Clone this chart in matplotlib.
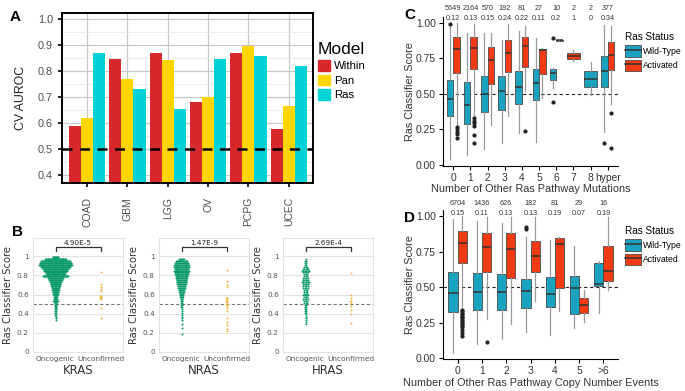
import matplotlib
matplotlib.use('Agg')
import matplotlib.pyplot as plt
from matplotlib.patches import Patch
from matplotlib.lines import Line2D
import numpy as np

nan = np.nan

# ---------------- panel A data ----------------
tumor_types = ['COAD', 'GBM', 'LGG', 'OV', 'PCPG', 'UCEC']
auroc_within = [0.589, 0.845, 0.870, 0.680, 0.870, 0.577]
auroc_pan = [0.620, 0.770, 0.840, 0.700, 0.895, 0.667]
auroc_ras = [0.870, 0.730, 0.655, 0.845, 0.857, 0.818]
model_names = ['Within', 'Pan', 'Ras']

# ---------------- panel B data (score level, number of samples at that level) ----------------
genes = ['KRAS', 'NRAS', 'HRAS']
pvalues = ['4.90E-5', '1.47E-9', '2.69E-4']

kras_onc_levels = [0.99, 0.97, 0.95, 0.93, 0.91, 0.89, 0.87, 0.85, 0.83, 0.81, 0.79, 0.77, 0.75, 0.73,
                   0.71, 0.69, 0.67, 0.65, 0.63, 0.61, 0.59, 0.57, 0.55, 0.53, 0.51, 0.49, 0.47, 0.45,
                   0.43, 0.41, 0.39, 0.37, 0.35, 0.33]
kras_onc_counts = [10, 34, 46, 50, 52, 46, 40, 36, 32, 30, 40, 24, 20, 18,
                   16, 14, 12, 11, 10, 8, 7, 6, 6, 8, 4, 4, 3, 3,
                   2, 2, 2, 1, 1, 1]
kras_unc_levels = [0.84, 0.71, 0.68, 0.66, 0.64, 0.58, 0.57, 0.56, 0.55, 0.46, 0.35]
kras_unc_counts = [1, 1, 1, 1, 1, 2, 1, 2, 1, 1, 1]

nras_onc_levels = [0.97, 0.95, 0.93, 0.91, 0.89, 0.87, 0.85, 0.83, 0.81, 0.79, 0.77, 0.75, 0.73, 0.71,
                   0.69, 0.67, 0.65, 0.63, 0.61, 0.59, 0.57, 0.55, 0.53, 0.51, 0.49, 0.47, 0.45, 0.43,
                   0.41, 0.39, 0.37, 0.35, 0.33, 0.29, 0.25, 0.19]
nras_onc_counts = [6, 14, 16, 18, 18, 16, 18, 16, 16, 14, 14, 12, 12, 10,
                   8, 8, 6, 6, 5, 4, 4, 3, 3, 2, 2, 2, 1, 1,
                   1, 1, 1, 1, 1, 1, 1, 1]
nras_unc_levels = [0.86, 0.74, 0.70, 0.68, 0.56, 0.55, 0.53, 0.52, 0.50, 0.48, 0.46, 0.43,
                   0.35, 0.31, 0.28, 0.24, 0.22]
nras_unc_counts = [1, 1, 1, 1, 2, 1, 2, 1, 2, 1, 1, 1, 1, 1, 1, 1, 1]

hras_onc_levels = [0.97, 0.95, 0.93, 0.91, 0.89, 0.87, 0.85, 0.83, 0.81, 0.79, 0.77, 0.75, 0.73, 0.71,
                   0.69, 0.67, 0.65, 0.63, 0.61, 0.59, 0.57, 0.55, 0.53, 0.51, 0.49, 0.47, 0.45, 0.43,
                   0.41, 0.39, 0.37, 0.35, 0.33, 0.31, 0.29]
hras_onc_counts = [1, 2, 2, 2, 3, 5, 6, 4, 3, 3, 4, 5, 6, 5,
                   4, 4, 3, 3, 3, 4, 3, 4, 3, 3, 2, 2, 2, 2,
                   2, 1, 1, 1, 1, 1, 1]
hras_unc_levels = [0.82, 0.60, 0.56, 0.53, 0.51, 0.48, 0.44, 0.40, 0.30]
hras_unc_counts = [1, 1, 1, 2, 1, 1, 1, 1, 1]

# ---------------- panel C data ----------------
c_cats = ['0', '1', '2', '3', '4', '5', '6', '7', '8', 'hyper']
c_counts = ['5649', '2164', '570', '192', '81', '27', '10', '2', '2', '377']
c_fracs = ['0.12', '0.13', '0.15', '0.24', '0.22', '0.11', '0.2', '1', '0', '0.34']
c_wt_lo = [0.04, 0.07, 0.11, 0.15, 0.22, 0.16, 0.54, nan, 0.49, 0.23]
c_wt_q1 = [0.34, 0.29, 0.37, 0.385, 0.43, 0.455, 0.595, nan, 0.545, 0.55]
c_wt_med = [0.46, 0.42, 0.50, 0.52, 0.545, 0.573, 0.645, nan, 0.604, 0.662]
c_wt_q3 = [0.596, 0.58, 0.625, 0.627, 0.66, 0.672, 0.672, nan, 0.663, 0.766]
c_wt_hi = [0.97, 0.93, 0.93, 0.88, 0.94, 0.89, 0.68, nan, 0.721, 0.984]
c_wt_out = [[0.99], [], [], [], [], [], [0.44, 0.89], [], [], [0.15]]
c_act_lo = [0.28, 0.34, 0.28, 0.34, 0.52, 0.47, 0.875, 0.728, nan, 0.43]
c_act_q1 = [0.648, 0.674, 0.566, 0.655, 0.69, 0.639, 0.873, 0.744, nan, 0.667]
c_act_med = [0.812, 0.82, 0.737, 0.784, 0.836, 0.81, 0.876, 0.768, nan, 0.773]
c_act_q3 = [0.901, 0.897, 0.827, 0.878, 0.901, 0.812, 0.879, 0.79, nan, 0.866]
c_act_hi = [1.0, 0.99, 0.93, 0.99, 0.98, 0.82, 0.88, 0.81, nan, 0.98]
c_act_out = [[0.263, 0.249, 0.232, 0.214, 0.186], [0.327, 0.31, 0.292, 0.273, 0.209, 0.155],
             [], [], [0.24], [], [], [], [], [0.362, 0.12]]

# ---------------- panel D data ----------------
d_cats = ['0', '1', '2', '3', '4', '5', '>6']
d_counts = ['6704', '1436', '626', '182', '81', '29', '16']
d_fracs = ['0.15', '0.11', '0.13', '0.13', '0.19', '0.07', '0.19']
d_wt_lo = [0.04, 0.098, 0.134, 0.187, 0.164, 0.215, 0.316]
d_wt_q1 = [0.323, 0.339, 0.339, 0.356, 0.358, 0.311, 0.51]
d_wt_med = [0.457, 0.464, 0.468, 0.471, 0.45, 0.492, 0.52]
d_wt_q3 = [0.604, 0.597, 0.592, 0.555, 0.569, 0.58, 0.667]
d_wt_hi = [0.98, 0.967, 0.948, 0.85, 0.831, 0.791, 0.684]
d_wt_out = [[], [], [], [0.925, 0.906], [], [], []]
d_act_lo = [0.358, 0.276, 0.241, 0.405, 0.332, 0.257, 0.48]
d_act_q1 = [0.672, 0.609, 0.562, 0.609, 0.492, 0.316, 0.543]
d_act_med = [0.808, 0.78, 0.766, 0.721, 0.801, 0.372, 0.613]
d_act_q3 = [0.895, 0.878, 0.878, 0.827, 0.843, 0.422, 0.791]
d_act_hi = [1.0, 0.99, 0.99, 0.99, 0.85, 0.48, 0.99]
d_act_out = [[0.34, 0.33, 0.32, 0.31, 0.30, 0.29, 0.28, 0.27, 0.26, 0.25, 0.24, 0.23, 0.22, 0.20, 0.18, 0.16],
             [0.115], [], [], [], [], []]

# ---------------- styles ----------------
W, H = 685, 391
plt.rcParams['font.family'] = ['Liberation Sans', 'DejaVu Sans']
red_a, gold_a, cyan_a = '#D7282B', '#FFD500', '#00D2D6'
onc_col, unc_col = '#0A9A6A', '#F2B53A'
wt_col, act_col = '#1AA3BF', '#F23B12'
tick_gray = '#4D4D4D'


def fig_rect(x0, y0, x1, y1):
    return [x0 / W, 1 - y1 / H, (x1 - x0) / W, (y1 - y0) / H]


fig = plt.figure(figsize=(W / 100, H / 100), dpi=100)

# ================= A =================
axA = fig.add_axes(fig_rect(62, 13, 313, 183))
xA = np.arange(len(tumor_types))
bw = 0.3
for k, (vals, col) in enumerate(zip([auroc_within, auroc_pan, auroc_ras], [red_a, gold_a, cyan_a])):
    axA.bar(xA + (k - 1) * bw, vals, width=bw, color=col, zorder=2, label=model_names[k])
axA.axhline(0.5, color='black', lw=1.8, dashes=(4, 3), zorder=3)
axA.set_ylim(0.37, 1.022)
axA.set_xlim(-0.62, 5.6)
axA.set_yticks([0.4, 0.5, 0.6, 0.7, 0.8, 0.9, 1.0])
axA.set_yticks([0.45, 0.55, 0.65, 0.75, 0.85, 0.95], minor=True)
axA.set_xticks(xA)
axA.set_xticklabels(tumor_types, rotation=90, fontsize=7.5, color=tick_gray)
axA.tick_params(axis='y', which='major', labelsize=7.8, labelcolor=tick_gray, length=3, width=1.2)
axA.tick_params(axis='y', which='minor', length=0)
axA.tick_params(axis='x', length=3, width=1.2, pad=7)
axA.grid(True, which='major', color='#C8C8C8', lw=0.9, zorder=0)
axA.grid(True, which='minor', axis='y', color='#E6E6E6', lw=0.5, zorder=0)
axA.set_axisbelow(True)
for sp in axA.spines.values():
    sp.set_color('black')
    sp.set_linewidth(1.4)
axA.set_ylabel('CV AUROC', fontsize=8.8, color='#222222', labelpad=8)
fig.legend(handles=[Patch(color=c) for c in (red_a, gold_a, cyan_a)], labels=model_names,
           title='Model', title_fontsize=12.5, fontsize=8.2, loc='upper left',
           bbox_to_anchor=(313 / W, 1 - 37 / H), frameon=False, handlelength=1.05,
           handleheight=1.05, labelspacing=0.3, handletextpad=0.4, alignment='left',
           borderaxespad=0)

# ================= B =================
b_data = [
    (kras_onc_levels, kras_onc_counts, kras_unc_levels, kras_unc_counts, 0.0142),
    (nras_onc_levels, nras_onc_counts, nras_unc_levels, nras_unc_counts, 0.02),
    (hras_onc_levels, hras_onc_counts, hras_unc_levels, hras_unc_counts, 0.03),
]
b_lefts = [33, 159, 283]
for gi, (ol, oc, ul, uc, dx) in enumerate(b_data):
    ax = fig.add_axes(fig_rect(b_lefts[gi], 238, b_lefts[gi] + 90, 352))
    for pos, levels, counts, col in [(0, ol, oc, onc_col), (1, ul, uc, unc_col)]:
        xs, ys = [], []
        for v, n in zip(levels, counts):
            offs = (np.arange(n) - (n - 1) / 2) * dx
            xs.extend(pos + offs)
            ys.extend([v] * n)
        ax.scatter(xs, ys, s=2.0, color=col, lw=0, zorder=3)
    ax.axhline(0.5, color='#777777', lw=0.8, ls=(0, (3, 2)), zorder=2)
    ax.plot([0, 0, 1, 1], [1.05, 1.1, 1.1, 1.05], color='#333333', lw=0.9)
    ax.text(0.5, 1.11, pvalues[gi], ha='center', va='bottom', fontsize=5.2,
            family='DejaVu Sans', color='#222222')
    ax.set_xlim(-0.5, 1.5)
    ax.set_ylim(0, 1.19)
    ax.set_yticks([0, 0.2, 0.4, 0.6, 0.8, 1.0])
    ax.set_yticklabels(['0', '0.2', '0.4', '0.6', '0.8', '1'], family='DejaVu Sans')
    ax.set_xticks([0, 1])
    ax.set_xticklabels(['Oncogenic', 'Unconfirmed'], family='DejaVu Sans')
    ax.tick_params(axis='both', labelsize=5.3, labelcolor='#555555', length=0, pad=3)
    ax.grid(True, axis='y', color='#E2E2E2', lw=0.8)
    ax.set_axisbelow(True)
    for sp in ax.spines.values():
        sp.set_color('#E2E2E2')
    ax.set_ylabel('Ras Classifier Score', fontsize=7.2, family='DejaVu Sans', color='#333333',
                  labelpad=3)
    ax.set_xlabel(genes[gi], fontsize=8.5, family='DejaVu Sans', color='#333333', labelpad=1)


# ================= C & D =================
def make_stats(lo, q1, med, q3, hi, out):
    stats, idx = [], []
    for i in range(len(lo)):
        if np.isnan(med[i]):
            continue
        stats.append(dict(whislo=lo[i], q1=q1[i], med=med[i], q3=q3[i], whishi=hi[i], fliers=out[i]))
        idx.append(i)
    return stats, idx


def box_panel(ax, cats, wt, act, counts, fracs, ytxt):
    wt_stats, wt_idx = make_stats(*wt)
    act_stats, act_idx = make_stats(*act)
    for stats, idx, other, sign, col in [(wt_stats, wt_idx, act_idx, -1, wt_col),
                                         (act_stats, act_idx, wt_idx, 1, act_col)]:
        pos, wid = [], []
        for i in idx:
            if i in other:
                pos.append(i + sign * 0.19)
                wid.append(0.38)
            else:
                pos.append(i)
                wid.append(0.76)
        ax.bxp(stats, positions=pos, widths=wid, patch_artist=True, showcaps=False,
               boxprops=dict(facecolor=col, edgecolor='#4A4A4A', lw=0.6),
               medianprops=dict(color='#333333', lw=1.1),
               whiskerprops=dict(color='#9A9A9A', lw=0.9),
               flierprops=dict(marker='o', markersize=2.0, markerfacecolor='#222222',
                               markeredgecolor='#222222'))
    ax.axhline(0.5, color='#222222', lw=0.8, ls=(0, (3, 2.5)), zorder=1)
    for i in range(len(cats)):
        ax.text(i, ytxt[0], counts[i], ha='center', va='center', fontsize=5.2, color='#333333',
                clip_on=False)
        ax.text(i, ytxt[1], fracs[i], ha='center', va='center', fontsize=5.2, color='#333333',
                clip_on=False)
    ax.set_xlim(-0.6, len(cats) - 0.4)
    ax.set_ylim(-0.007, 1.04)
    ax.set_xticks(range(len(cats)))
    ax.set_xticklabels(cats)
    ax.set_yticks([0, 0.25, 0.5, 0.75, 1.0])
    ax.set_yticklabels(['0.00', '0.25', '0.50', '0.75', '1.00'])
    ax.tick_params(axis='both', labelsize=7.4, labelcolor='#333333', length=3, width=0.8, pad=2)
    for s in ['top', 'right']:
        ax.spines[s].set_visible(False)
    for s in ['left', 'bottom']:
        ax.spines[s].set_linewidth(0.8)
    ax.set_ylabel('Ras Classifier Score', fontsize=7.8, color='#333333', labelpad=1)


status_handles = [(Patch(facecolor=wt_col, edgecolor='#4A4A4A', lw=0.6), Line2D([], [], color='#333333', lw=1.1)),
                  (Patch(facecolor=act_col, edgecolor='#4A4A4A', lw=0.6), Line2D([], [], color='#333333', lw=1.1))]

axC = fig.add_axes(fig_rect(443, 17, 618, 165.7))
box_panel(axC, c_cats,
          (c_wt_lo, c_wt_q1, c_wt_med, c_wt_q3, c_wt_hi, c_wt_out),
          (c_act_lo, c_act_q1, c_act_med, c_act_q3, c_act_hi, c_act_out),
          c_counts, c_fracs, (1.10, 1.03))
axC.set_xlabel('Number of Other Ras Pathway Mutations', fontsize=7.8, color='#333333', labelpad=1)
fig.legend(status_handles, ['Wild-Type', 'Activated'], title='Ras Status', loc='upper left',
           bbox_to_anchor=(622 / W, 1 - 29 / H), frameon=False, fontsize=6.2, title_fontsize=7.2,
           handlelength=1.85, handleheight=1.6, labelspacing=0.35, handletextpad=0.2,
           alignment='left', borderaxespad=0)

axD = fig.add_axes(fig_rect(443, 210.3, 618, 359.3))
box_panel(axD, d_cats,
          (d_wt_lo, d_wt_q1, d_wt_med, d_wt_q3, d_wt_hi, d_wt_out),
          (d_act_lo, d_act_q1, d_act_med, d_act_q3, d_act_hi, d_act_out),
          d_counts, d_fracs, (1.09, 1.02))
axD.set_xlabel('Number of Other Ras Pathway Copy Number Events', fontsize=7.8, color='#333333',
               labelpad=1)
fig.legend(status_handles, ['Wild-Type', 'Activated'], title='Ras Status', loc='upper left',
           bbox_to_anchor=(622 / W, 1 - 223 / H), frameon=False, fontsize=6.2, title_fontsize=7.2,
           handlelength=1.85, handleheight=1.6, labelspacing=0.35, handletextpad=0.2,
           alignment='left', borderaxespad=0)

# panel letters
for lab, x, y in [('A', 10, 17), ('B', 12, 232), ('C', 404, 15), ('D', 404, 218)]:
    fig.text(x / W, 1 - y / H, lab, fontsize=11, fontweight='bold', ha='left', va='center')

fig.savefig('out.png', dpi=100)
